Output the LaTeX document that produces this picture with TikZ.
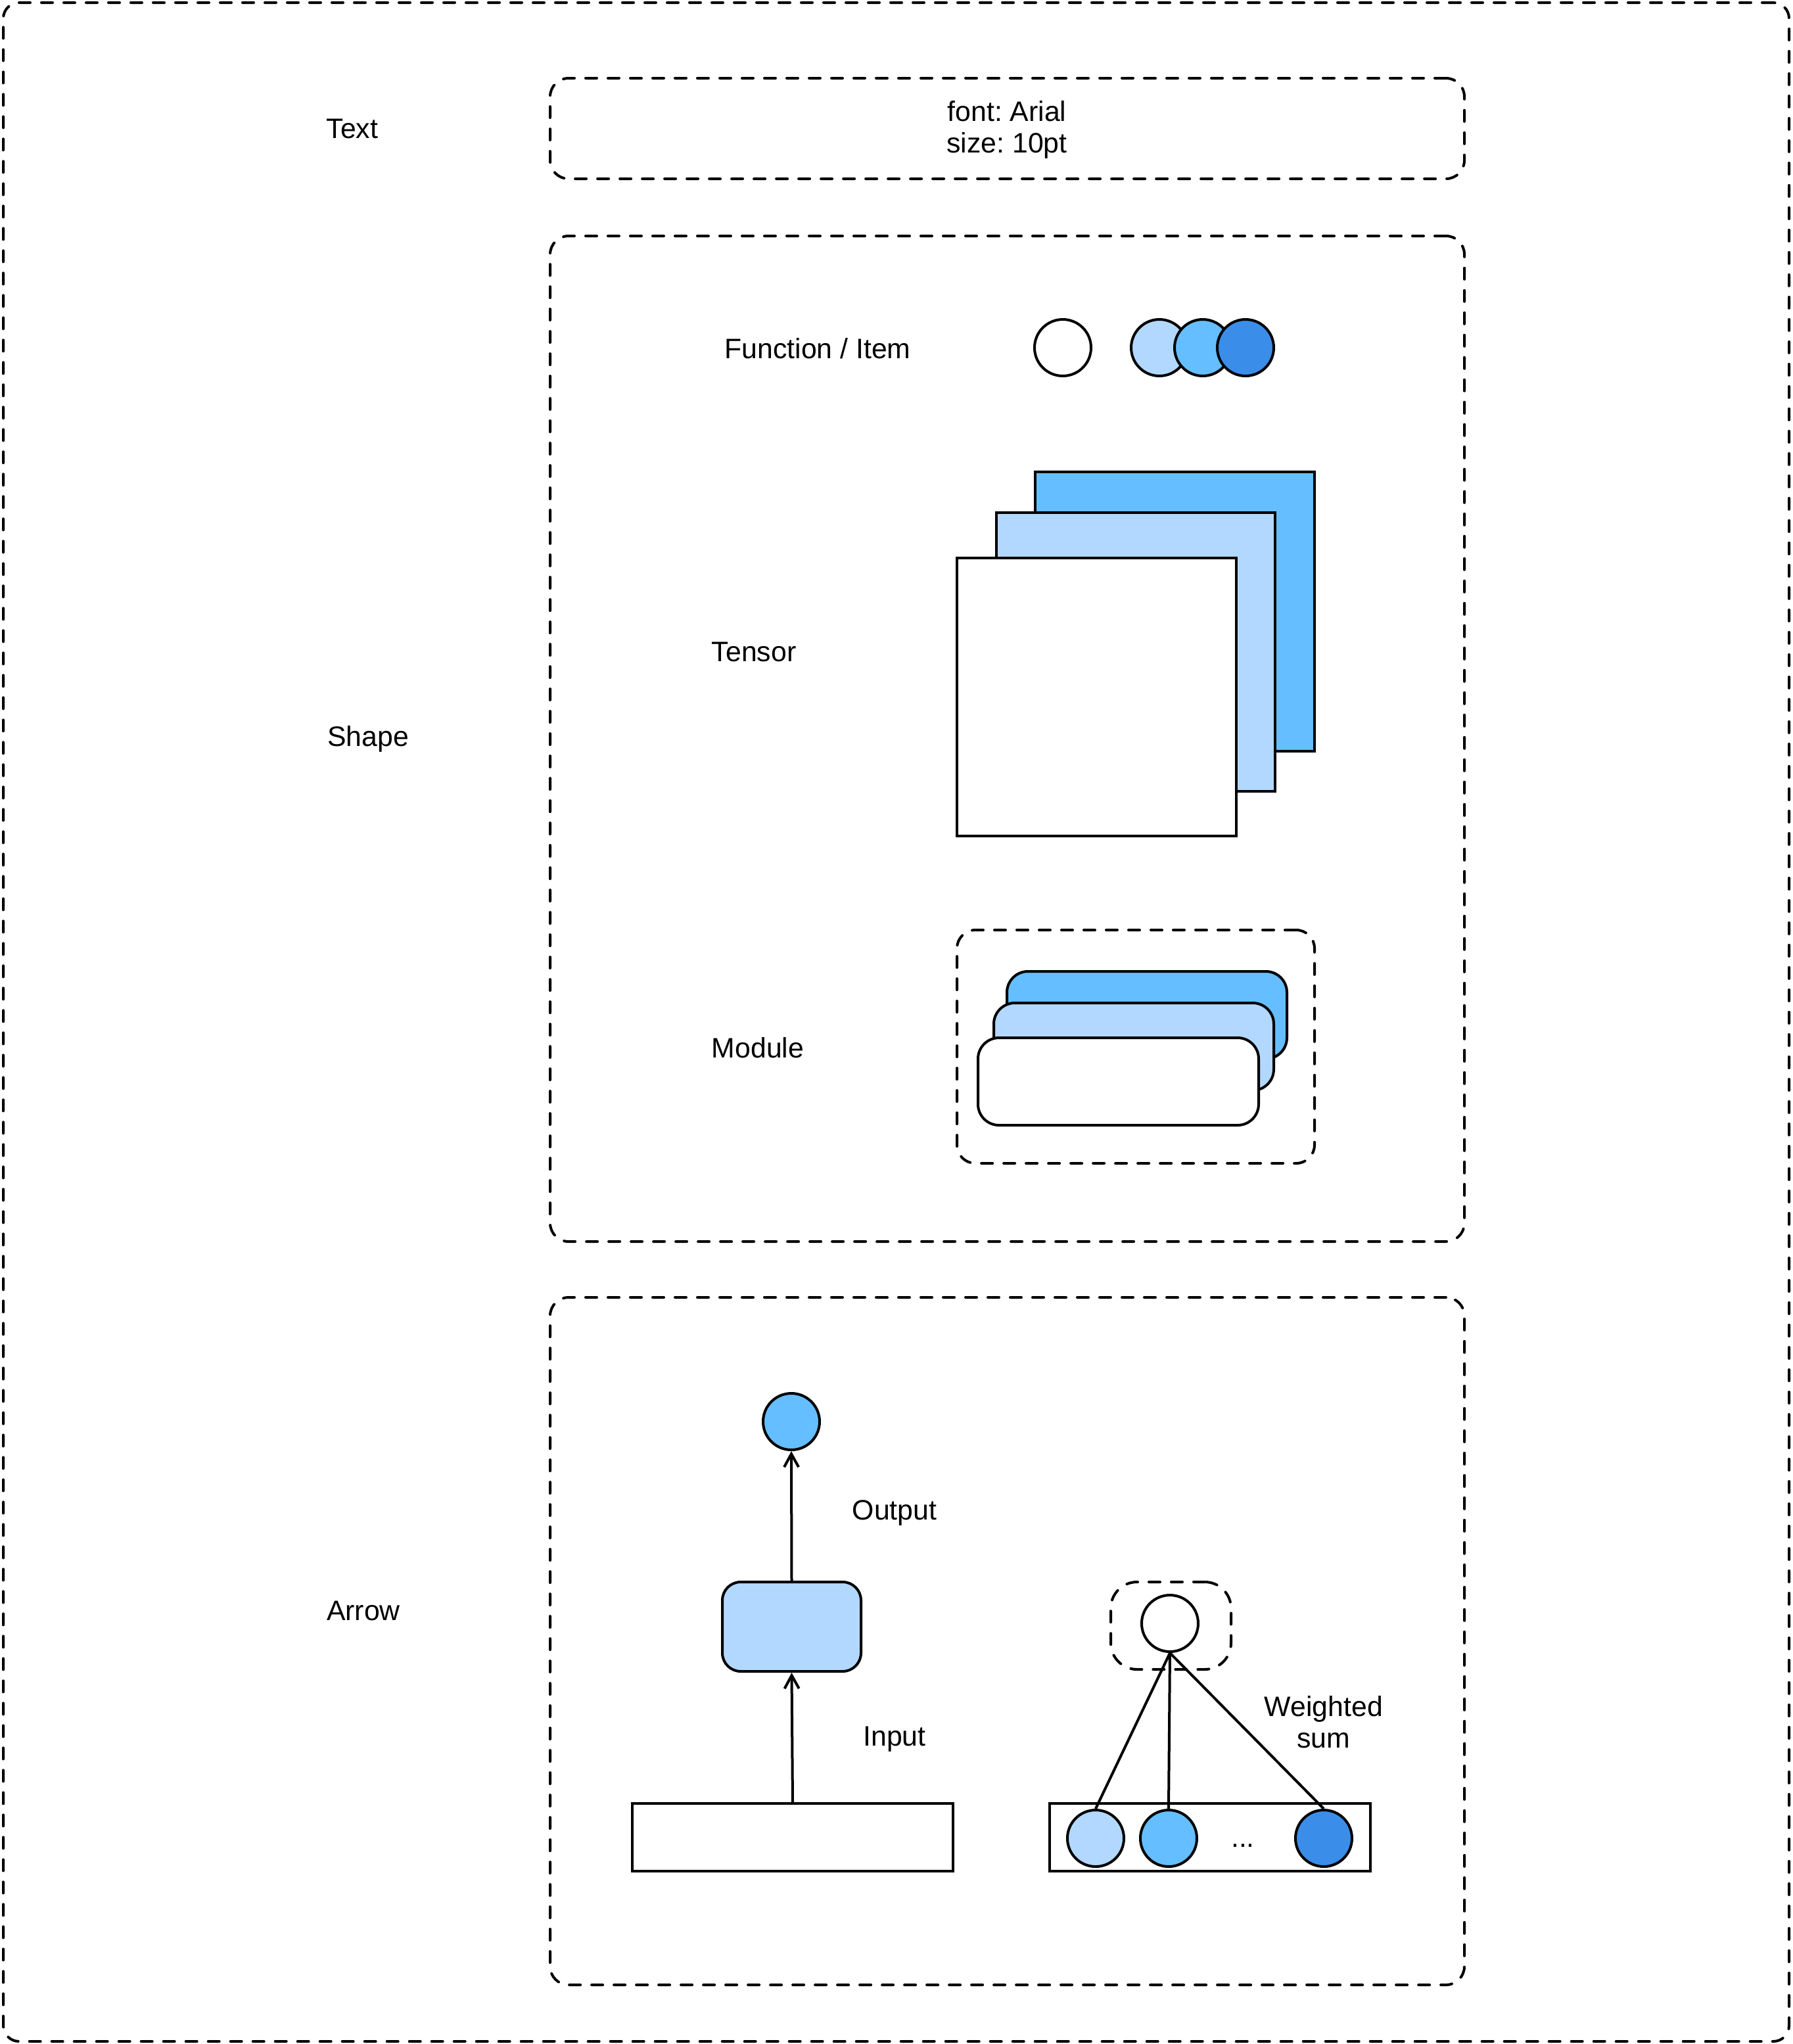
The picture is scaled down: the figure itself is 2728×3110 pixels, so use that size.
\documentclass[tikz,border=0pt]{standalone}
\usepackage{fontspec}
\setmainfont{Liberation Sans}
\usetikzlibrary{fit,arrows.meta}
\frenchspacing
\definecolor{lb}{RGB}{178,216,255}
\definecolor{mb}{RGB}{101,190,255}
\definecolor{db}{RGB}{58,142,233}
\tikzset{
  frame/.style={draw, line width=1pt, dash pattern=on 4.25pt off 4.25pt, line cap=round, rounded corners=7pt, inner sep=0pt},
  solidbox/.style={draw, line width=1pt, inner sep=0pt},
  card/.style={draw, line width=1pt, inner sep=0pt, rounded corners=8pt},
  dot/.style={draw, line width=1pt, circle, minimum size=21.5pt, inner sep=0pt},
  lbl/.style={font=\fontsize{10.7pt}{12pt}\selectfont\frenchspacing, align=center, inner sep=0pt},
  arr/.style={line width=1pt, -{Straight Barb[length=5pt,width=5.5pt,line width=1pt]}},
  wire/.style={line width=1pt}
}
\begin{document}
\begin{tikzpicture}[x=0.25pt,y=-0.25pt]
\useasboundingbox (0,0) rectangle (2728,3110);
\node[frame, rounded corners=6pt, fit={(5,4) (2722,3106)}] (outer) {};
% Text section
\node[lbl] (ttext) at (536,196) {Text};
\node[frame, fit={(837,119) (2228,272)}] (textbox) {};
\node[lbl] (fontlbl) at (1532,197) {font: Arial\\size: 10pt};
% Shape section
\node[lbl] (tshape) at (560,1124) {Shape};
\node[frame, fit={(837,359) (2228,1889)}] (shapebox) {};
\node[lbl] (tfunc) at (1244,530) {Function / Item};
\node[dot, fill=white] (fw) at (1617,529) {};
\node[dot, fill=lb] (f1) at (1764,529) {};
\node[dot, fill=mb] (f2) at (1830,529) {};
\node[dot, fill=db] (f3) at (1895,529) {};
\node[lbl] (ttensor) at (1147,992) {Tensor};
\node[solidbox, fill=mb, fit={(1575,718) (2000,1143)}] (ten3) {};
\node[solidbox, fill=lb, fit={(1516,780) (1940,1204)}] (ten2) {};
\node[solidbox, fill=white, fit={(1456,849) (1881,1272)}] (ten1) {};
\node[lbl] (tmodule) at (1153,1594) {Module};
\node[frame, fit={(1456,1415) (2000,1770)}] (modbox) {};
\node[card, fill=mb, fit={(1532,1478) (1958,1611)}] (mod3) {};
\node[card, fill=lb, fit={(1512,1526) (1938,1659)}] (mod2) {};
\node[card, fill=white, fit={(1488,1579) (1915,1712)}] (mod1) {};
% Arrow section
\node[lbl] (tarrow) at (553,2451) {Arrow};
\node[frame, fit={(837,1974) (2228,3020)}] (arrowbox) {};
\node[dot, fill=mb] (outc) at (1204,2163) {};
\node[card, fill=lb, rounded corners=7pt, fit={(1099,2407) (1310,2543)}] (layer) {};
\node[solidbox, fill=white, fit={(962,2744) (1450,2847)}] (inrect) {};
\draw[arr] (layer.north) -- (outc.south);
\draw[arr] (inrect.north) -- (layer.south);
\node[lbl] (toutput) at (1361,2302) {Output};
\node[lbl] (tinput) at (1361,2646) {Input};
% Weighted sum
\node[frame, rounded corners=10pt, fit={(1690,2407) (1873,2540)}] (wsbox) {};
\node[dot, fill=white] (ws) at (1780,2470) {};
\node[solidbox, fit={(1597,2744) (2085,2847)}] (vec) {};
\node[dot, fill=lb] (c1) at (1667,2797) {};
\node[dot, fill=mb] (c2) at (1778,2797) {};
\node[dot, fill=db] (c3) at (2014,2797) {};
\node[lbl] (dots) at (1891,2808) {...};
\draw[wire] (ws.south) -- (c1.north);
\draw[wire] (ws.south) -- (c2.north);
\draw[wire] (ws.south) -- (c3.north);
\node[lbl] (twsum) at (2014,2620) {Weighted\\sum};
\end{tikzpicture}
\end{document}
